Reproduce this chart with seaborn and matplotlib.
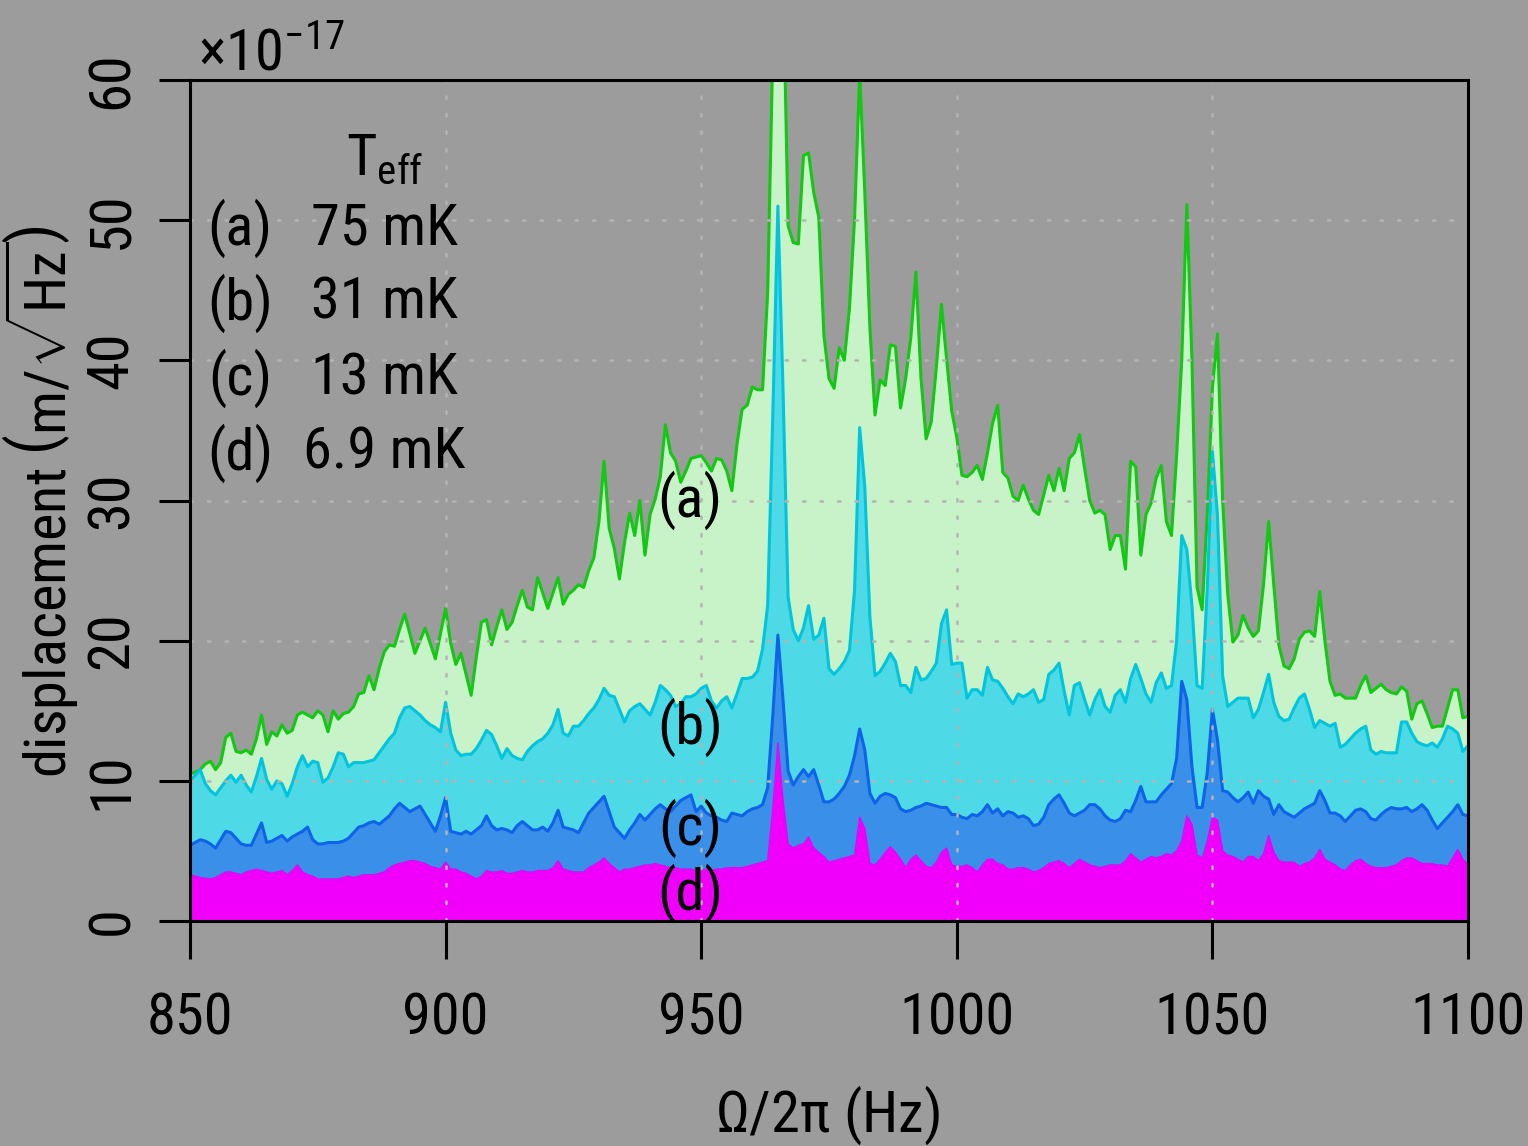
import numpy as np
import pandas as pd
import matplotlib
matplotlib.use("Agg")
import matplotlib.pyplot as plt
import seaborn as sns
from matplotlib import font_manager

# ---------------- data (values in units of 1e-17 m/sqrt(Hz)) ----------------
freq = list(range(850, 1101))  # Hz, 1 Hz resolution

series_a = [
    10.5, 10.6, 10.8, 11.2, 11.4, 10.8, 11.3, 13.1, 13.4, 12.1,
    12.0, 12.2, 11.9, 13.0, 14.7, 12.6, 13.5, 13.2, 14.0, 13.4,
    13.6, 14.7, 14.9, 14.7, 14.5, 15.0, 14.7, 13.5, 15.0, 14.4,
    14.8, 14.9, 15.3, 16.2, 16.3, 17.5, 16.5, 18.0, 19.2, 19.7,
    19.6, 20.8, 21.9, 20.5, 19.1, 20.0, 20.9, 19.8, 18.7, 20.5,
    22.3, 19.8, 18.3, 19.1, 17.6, 16.1, 18.8, 21.3, 21.5, 19.7,
    21.0, 22.2, 20.8, 21.3, 22.5, 23.6, 22.4, 22.2, 24.5, 23.4,
    22.3, 23.4, 24.5, 22.6, 23.3, 23.6, 24.0, 23.8, 25.0, 25.9,
    28.5, 32.8, 28.0, 26.6, 24.4, 27.0, 29.1, 27.5, 30.0, 26.1,
    29.0, 30.1, 31.7, 35.4, 33.4, 32.8, 31.3, 32.1, 33.0, 33.1,
    33.2, 32.7, 32.1, 33.0, 32.9, 32.1, 30.7, 34.0, 36.5, 36.8,
    38.1, 37.9, 37.9, 44.8, 62.0, 75.0, 68.0, 49.6, 48.4, 48.3,
    54.6, 54.8, 52.0, 50.2, 41.8, 38.7, 38.0, 40.9, 40.0, 43.7,
    50.1, 60.5, 52.0, 42.3, 36.1, 38.6, 38.2, 41.1, 41.0, 36.6,
    38.7, 41.6, 46.3, 38.7, 34.4, 35.6, 39.5, 44.0, 40.1, 36.4,
    34.5, 31.8, 31.7, 32.0, 32.5, 31.5, 33.4, 35.5, 36.8, 32.0,
    31.6, 30.3, 30.0, 31.1, 30.1, 29.3, 29.0, 30.4, 31.8, 30.7,
    32.3, 30.7, 33.0, 33.4, 34.7, 32.3, 30.0, 29.1, 29.3, 29.0,
    26.5, 27.5, 27.5, 25.1, 32.8, 32.4, 26.1, 29.0, 29.8, 31.6,
    32.5, 28.5, 27.5, 33.2, 40.0, 51.1, 40.0, 23.8, 22.2, 29.0,
    38.0, 41.9, 30.0, 23.3, 19.9, 20.4, 21.8, 20.9, 20.3, 20.7,
    24.0, 28.5, 24.0, 19.7, 18.2, 18.0, 18.7, 20.1, 20.6, 20.7,
    20.3, 23.5, 20.0, 17.1, 16.1, 16.2, 15.9, 15.9, 15.9, 16.8,
    17.5, 16.3, 16.6, 16.9, 16.5, 16.3, 16.2, 16.7, 16.4, 14.4,
    15.5, 15.7, 14.8, 13.8, 13.9, 13.9, 15.2, 16.5, 16.5, 14.5,
    14.6,
]

series_b = [
    10.0, 10.4, 10.8, 9.8, 9.3, 9.0, 9.5, 10.0, 10.4, 9.9,
    10.4, 9.7, 9.2, 10.3, 11.6, 10.1, 9.4, 10.0, 9.8, 8.9,
    9.8, 11.0, 11.8, 11.0, 11.4, 11.3, 9.9, 10.2, 11.0, 12.0,
    11.9, 11.0, 11.3, 11.3, 11.3, 11.4, 11.5, 12.0, 12.5, 13.0,
    13.4, 14.5, 15.2, 15.3, 15.0, 14.7, 14.3, 14.0, 13.8, 13.5,
    15.6, 13.4, 12.2, 11.8, 11.9, 11.9, 12.3, 12.9, 13.6, 13.3,
    12.5, 11.6, 12.3, 11.8, 11.6, 11.5, 12.1, 12.5, 12.8, 13.0,
    13.4, 14.0, 15.1, 13.4, 13.2, 13.9, 13.9, 14.3, 14.8, 15.2,
    15.8, 16.6, 16.1, 16.0, 15.1, 14.2, 15.0, 15.3, 15.5, 15.1,
    14.7, 15.6, 16.8, 16.5, 16.1, 15.3, 15.5, 16.0, 16.0, 16.2,
    16.6, 16.8, 15.7, 15.2, 15.7, 16.0, 15.2, 16.2, 17.3, 17.3,
    17.4, 17.8, 19.4, 22.5, 36.0, 51.0, 38.0, 23.1, 20.8, 20.0,
    20.9, 22.5, 20.1, 20.4, 21.6, 18.0, 17.6, 18.0, 18.5, 19.3,
    23.6, 35.2, 31.0, 21.7, 17.5, 17.8, 18.4, 19.1, 18.5, 16.8,
    16.8, 16.3, 18.1, 17.2, 17.3, 17.8, 18.4, 21.2, 22.2, 18.3,
    18.4, 18.4, 15.9, 16.5, 16.5, 16.1, 18.1, 17.2, 17.1, 16.6,
    16.0, 15.5, 16.2, 16.0, 16.2, 16.5, 15.6, 15.8, 17.6, 17.9,
    18.4, 16.4, 14.7, 16.8, 17.0, 15.8, 14.7, 15.8, 16.5, 15.3,
    14.9, 16.1, 16.5, 15.6, 17.3, 18.3, 17.3, 16.2, 15.6, 17.0,
    17.7, 16.6, 16.8, 20.0, 27.5, 26.5, 22.5, 16.8, 16.6, 23.8,
    33.5, 28.9, 17.5, 15.3, 15.6, 15.9, 15.9, 15.9, 14.5, 15.1,
    16.3, 17.6, 15.6, 14.6, 14.3, 14.4, 15.2, 15.9, 16.2, 15.1,
    13.8, 14.3, 14.1, 13.9, 14.1, 12.4, 12.6, 13.0, 13.4, 13.7,
    13.9, 12.2, 11.9, 12.1, 12.0, 12.0, 12.0, 14.2, 14.2, 13.4,
    12.8, 12.6, 12.5, 12.7, 12.4, 13.0, 13.9, 13.7, 13.4, 12.1,
    12.5,
]

series_c = [
    5.4, 5.6, 5.8, 5.7, 5.5, 5.2, 5.8, 6.4, 6.3, 5.9,
    5.5, 5.4, 5.4, 6.2, 7.0, 5.6, 5.7, 5.9, 6.1, 5.7,
    6.0, 6.2, 6.4, 6.7, 5.8, 5.5, 5.5, 5.6, 5.6, 5.6,
    5.7, 5.9, 6.3, 6.7, 6.8, 7.0, 7.1, 6.9, 7.2, 7.5,
    8.0, 8.4, 8.1, 7.8, 8.0, 8.2, 7.6, 7.0, 6.4, 7.5,
    8.8, 6.4, 6.3, 6.2, 6.4, 6.2, 6.5, 6.8, 7.5, 6.8,
    6.5, 6.6, 6.5, 6.3, 6.8, 7.1, 6.8, 6.5, 6.5, 6.7,
    6.4, 7.0, 7.9, 6.7, 6.6, 6.5, 6.3, 7.0, 7.7, 8.1,
    8.5, 8.9, 7.8, 6.7, 6.3, 5.9, 6.5, 7.0, 7.6, 7.2,
    7.6, 8.0, 8.3, 8.0, 7.8, 8.2, 8.6, 8.8, 9.0, 7.8,
    8.2, 7.7, 7.5, 7.4, 7.2, 7.1, 7.7, 7.6, 7.5, 7.8,
    8.0, 8.1, 8.3, 9.5, 14.6, 20.4, 15.8, 10.7, 9.7, 10.3,
    10.8, 10.3, 10.8, 9.7, 8.5, 8.5, 8.7, 9.1, 9.6, 10.4,
    11.8, 13.7, 12.2, 9.1, 8.4, 8.9, 9.1, 9.0, 8.8, 8.0,
    7.8, 7.9, 8.1, 8.2, 8.4, 8.3, 8.2, 8.1, 8.1, 7.6,
    7.6, 7.4, 7.3, 7.6, 7.5, 7.8, 8.3, 7.7, 8.0, 7.5,
    7.8, 7.7, 7.4, 7.5, 7.3, 6.8, 6.9, 7.4, 8.3, 8.7,
    9.0, 8.4, 7.7, 7.5, 7.7, 7.9, 8.3, 8.3, 8.0, 7.5,
    7.2, 7.1, 7.3, 7.9, 7.8, 8.6, 9.6, 8.5, 8.5, 8.5,
    9.0, 9.4, 9.8, 11.6, 17.1, 15.8, 11.0, 8.1, 8.1, 10.6,
    15.1, 12.9, 9.3, 9.2, 8.8, 8.5, 8.8, 9.2, 8.4, 9.3,
    8.9, 8.7, 7.6, 8.3, 7.8, 7.6, 7.4, 7.7, 8.0, 8.2,
    8.4, 9.3, 8.6, 7.7, 7.7, 7.5, 7.1, 7.5, 7.9, 8.0,
    7.8, 7.3, 7.2, 7.6, 7.9, 8.1, 8.0, 8.0, 8.1, 7.8,
    8.0, 8.3, 7.9, 7.2, 6.6, 7.0, 7.4, 7.8, 8.3, 7.6,
    7.5,
]

series_d = [
    3.3, 3.2, 3.1, 3.05, 3.0, 3.1, 3.3, 3.5, 3.5, 3.4,
    3.3, 3.5, 3.6, 3.7, 3.6, 3.5, 3.4, 3.5, 3.6, 3.3,
    3.6, 4.0, 3.5, 3.3, 3.2, 3.0, 3.0, 3.0, 3.0, 3.0,
    3.1, 3.2, 3.1, 3.2, 3.3, 3.3, 3.3, 3.4, 3.5, 3.8,
    4.0, 4.1, 4.2, 4.3, 4.3, 4.2, 4.1, 3.9, 3.8, 3.7,
    4.2, 3.7, 3.7, 3.5, 3.4, 3.2, 3.0, 3.2, 3.6, 3.5,
    3.5, 3.6, 3.4, 3.4, 3.5, 3.6, 3.5, 3.5, 3.6, 3.6,
    3.6, 3.8, 4.3, 3.7, 3.6, 3.5, 3.5, 3.5, 3.8, 4.0,
    4.2, 4.5, 4.1, 3.8, 3.5, 3.7, 3.7, 3.8, 3.9, 4.0,
    4.0, 4.1, 4.0, 3.9, 3.8, 3.8, 3.7, 3.7, 3.7, 3.6,
    3.6, 3.7, 3.6, 3.7, 3.7, 3.8, 3.8, 3.8, 3.8, 3.9,
    4.0, 4.1, 4.2, 4.3, 8.0, 12.7, 8.6, 5.5, 5.2, 5.4,
    5.5, 6.0, 5.2, 4.9, 4.6, 4.2, 4.3, 4.4, 4.5, 4.6,
    4.7, 7.4, 6.6, 4.1, 4.0, 4.4, 4.9, 5.3, 4.9, 4.4,
    3.8, 4.4, 4.7, 4.3, 3.9, 3.8, 4.2, 4.9, 5.2, 4.0,
    3.9, 3.9, 4.0, 3.8, 3.5, 4.0, 4.4, 4.4, 4.1, 4.0,
    3.7, 3.7, 3.8, 3.8, 3.7, 3.5, 3.6, 3.8, 4.1, 4.2,
    4.3, 4.1, 3.8, 4.1, 4.4, 4.2, 4.0, 3.9, 3.8, 3.9,
    4.0, 4.0, 4.0, 4.3, 4.8, 4.5, 4.2, 4.4, 4.6, 4.5,
    4.6, 4.8, 4.7, 5.0, 5.7, 7.5, 6.9, 4.7, 4.5, 5.7,
    7.4, 7.2, 5.0, 4.7, 4.6, 4.4, 4.2, 4.6, 4.6, 4.3,
    4.8, 6.1, 4.9, 4.3, 4.2, 4.2, 4.2, 3.9, 4.1, 4.2,
    4.5, 5.1, 4.4, 4.2, 4.0, 3.7, 3.6, 4.0, 4.3, 4.4,
    4.1, 3.9, 3.8, 3.8, 3.8, 3.9, 4.0, 4.3, 4.5, 4.5,
    4.3, 4.1, 4.1, 4.1, 4.0, 4.0, 3.9, 4.5, 5.1, 4.4,
    4.0,
]

curve_tags = ["(a)", "(b)", "(c)", "(d)"]
temperatures = ["75 mK", "31 mK", "13 mK", "6.9 mK"]
x_ticks = [850, 900, 950, 1000, 1050, 1100]
y_ticks = [0, 10, 20, 30, 40, 50, 60]

# ---------------- style ----------------
sns.set_theme(style="white")


def _is_regular(f):
    return f.style == "normal" and str(f.weight).lower() in ("400", "normal", "regular", "book")


def pick_condensed():
    entries = font_manager.fontManager.ttflist
    prefs = ["Liberation Sans Narrow", "Arial Narrow", "Nimbus Sans Narrow",
             "DejaVu Sans Condensed", "Noto Sans Condensed", "Roboto Condensed",
             "Open Sans Condensed", "Noto Sans SemiCondensed"]
    for p in prefs:
        for f in entries:
            if f.name == p and _is_regular(f):
                return f.name, "normal"
    for fam in ["Noto Sans", "DejaVu Sans", "Roboto", "Open Sans", "Liberation Sans"]:
        for f in entries:
            if f.name == fam and f.stretch == "condensed" and _is_regular(f):
                return f.name, "condensed"
    return None, None


cname, cstretch = pick_condensed()
if cname is not None:
    main_font, stretch, FS = cname, cstretch, 42
else:
    main_font, stretch, FS = "Liberation Sans", "normal", 38

plt.rcParams["font.family"] = [main_font, "DejaVu Sans"]
plt.rcParams["font.stretch"] = stretch
plt.rcParams["mathtext.fontset"] = "custom"
pattern = f"{main_font}:stretch={stretch}"
plt.rcParams["mathtext.rm"] = pattern
plt.rcParams["mathtext.it"] = pattern
plt.rcParams["mathtext.sf"] = pattern
for key in ["text.color", "axes.labelcolor", "xtick.color", "ytick.color"]:
    plt.rcParams[key] = "black"

BG = "#9c9c9c"
fills = ["#c8f2c8", "#4ed9e7", "#3a8fe9", "#f000fa"]
lines = ["#12c812", "#00c5dc", "#0f63e6", "#e800f4"]
lws = [2.2, 2.2, 2.2, 1.0]

fig = plt.figure(figsize=(15.28, 11.46), dpi=100, facecolor=BG)
ax = fig.add_axes([190 / 1528, 1 - 921 / 1146, (1468 - 190) / 1528, (921 - 80) / 1146])
ax.set_facecolor(BG)

df = pd.DataFrame({"freq": freq, "a": series_a, "b": series_b, "c": series_c, "d": series_d})
for key, fc, lc, lw in zip(["a", "b", "c", "d"], fills, lines, lws):
    ax.fill_between(df["freq"], 0, df[key], color=fc, lw=0, zorder=1)
    sns.lineplot(data=df, x="freq", y=key, color=lc, lw=lw, ax=ax, zorder=2)

ax.set_xlim(850, 1100)
ax.set_ylim(0, 60)
ax.set_xticks(x_ticks)
ax.set_xticklabels([str(t) for t in x_ticks])
ax.set_yticks(y_ticks)
ax.set_yticklabels([str(t) for t in y_ticks], rotation=90, va="center")
ax.set_xlabel("")
ax.set_ylabel("")

ax.grid(True, color="#b4b4b4", linestyle=(0, (1, 6.0)), lw=1.8, dash_capstyle="round")
ax.set_axisbelow(False)

for s in ax.spines.values():
    s.set_color("black")
    s.set_linewidth(2.2)
    s.set_visible(True)
    s.set_zorder(4)
ax.tick_params(axis="x", direction="out", length=27, width=2.2, pad=24,
               labelsize=FS, colors="black", bottom=True, top=False)
ax.tick_params(axis="y", direction="out", length=22, width=2.2, pad=14,
               labelsize=FS, colors="black", left=True, right=False)

# ---------------- text ----------------
fig.text(198 / 1528, 1 - 70 / 1146, r"$\times10^{-17}$", fontsize=FS, ha="left", va="baseline")
fig.text(40 / 1528, 1 - 502 / 1146, r"displacement $\left(\mathrm{m}/\sqrt{\mathrm{Hz}}\right)$",
         fontsize=FS, rotation=90, ha="center", va="center")
fig.text(828 / 1528, 1 - 1115 / 1146, r"$\Omega/2\pi$ (Hz)", fontsize=FS, ha="center", va="center")

ax.text(888.0, 53.2, r"T$_{\mathrm{eff}}$", fontsize=FS, ha="center", va="baseline")
row_y = [49.4, 44.1, 38.7, 33.4]
for tag, temp, yy in zip(curve_tags, temperatures, row_y):
    ax.text(859.8, yy, tag, fontsize=FS, ha="center", va="center")
    ax.text(888.0, yy, temp, fontsize=FS, ha="center", va="center")

tag_y = [30.0, 13.8, 6.6, 2.0]
for tag, yy in zip(curve_tags, tag_y):
    ax.text(947.8, yy, tag, fontsize=FS, ha="center", va="center", zorder=5)

fig.savefig("out.png", dpi=100, facecolor=BG)
